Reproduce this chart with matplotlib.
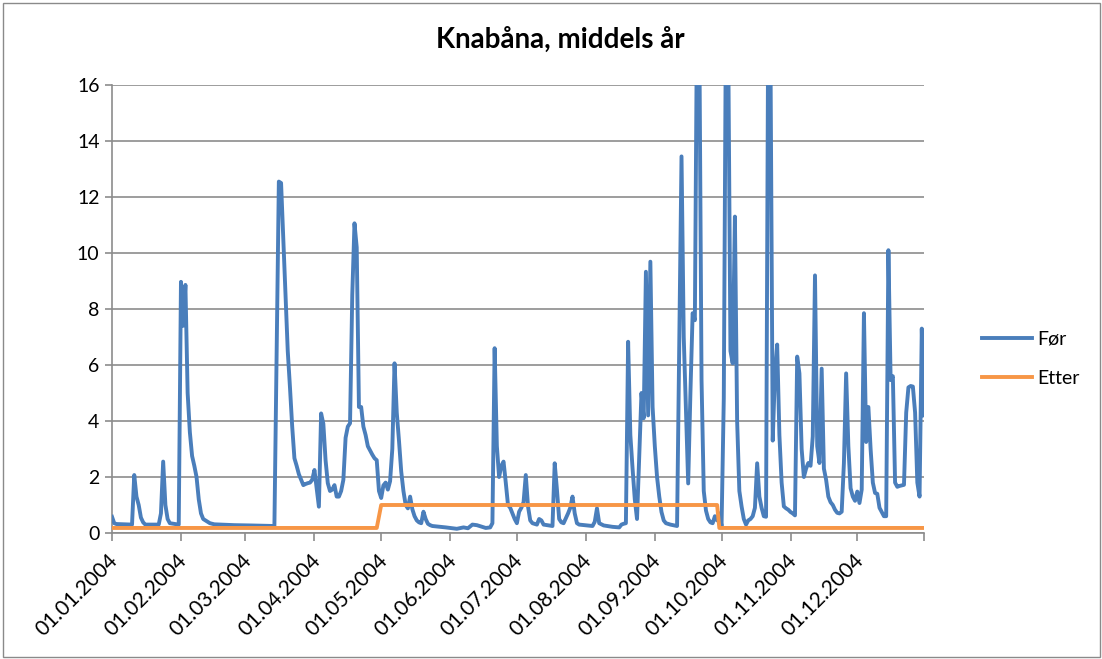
import numpy as np
import pandas as pd
import matplotlib
matplotlib.use("Agg")
import matplotlib.pyplot as plt
import matplotlib.transforms as mtransforms
from matplotlib.patches import Rectangle

# ---------------- data ----------------
title = "Knabåna, middels år"
series_names = ["Før", "Etter"]
year_start = "2004-01-01"
year_end = "2004-12-31"

# "Før": day-of-year offsets (0 = 01.01.2004) and values
for_day = [0, 1, 2, 9, 10, 11, 12, 13, 14, 15, 21, 22, 23, 24, 25, 26, 30, 31, 32, 33,
           34, 35, 36, 37, 38, 39, 40, 41, 42, 44, 46, 55, 62, 73, 75, 76, 77, 78, 79, 80,
           81, 82, 83, 84, 85, 86, 87, 88, 89, 90, 91, 92, 93, 94, 95, 96, 97, 98, 99, 100,
           101, 102, 103, 104, 105, 106, 107, 108, 109, 110, 111, 112, 113, 114, 115, 116, 117, 118, 119, 120,
           121, 122, 123, 124, 125, 126, 127, 128, 129, 130, 131, 132, 133, 134, 135, 136, 137, 138, 139, 140,
           141, 142, 143, 144, 150, 155, 158, 160, 162, 164, 168, 170, 171, 172, 173, 174, 175, 176, 177, 178,
           179, 180, 181, 182, 183, 184, 185, 186, 187, 188, 189, 191, 192, 193, 194, 198, 199, 200, 201, 202,
           203, 205, 206, 207, 208, 209, 210, 216, 217, 218, 219, 221, 225, 228, 229, 230, 231, 232, 233, 234,
           235, 236, 237, 238, 239, 240, 241, 242, 243, 244, 245, 246, 247, 248, 249, 251, 254, 256, 257, 259,
           260, 261, 262, 263, 264, 265, 266, 267, 268, 269, 270, 271, 272, 273, 274, 275, 276, 277, 278, 279,
           280, 281, 282, 283, 284, 285, 286, 287, 288, 289, 290, 291, 292, 293, 294, 295, 296, 297, 298, 299,
           300, 301, 302, 303, 304, 305, 306, 307, 308, 309, 310, 311, 312, 313, 314, 315, 316, 317, 318, 319,
           320, 321, 322, 323, 324, 325, 326, 327, 328, 329, 330, 331, 332, 333, 334, 335, 336, 337, 338, 339,
           340, 341, 342, 343, 344, 345, 346, 347, 348, 349, 350, 351, 352, 353, 354, 355, 356, 357, 358, 359,
           360, 361, 362, 363, 364, 365]
for_value = [0.58, 0.35, 0.32, 0.3, 2.07, 1.3, 1.0, 0.55, 0.38, 0.3, 0.3, 0.7, 2.55, 1.0, 0.5, 0.35, 0.3, 8.97, 7.4, 8.86,
             5.0, 3.6, 2.75, 2.4, 2.0, 1.2, 0.7, 0.5, 0.45, 0.35, 0.31, 0.28, 0.27, 0.25, 12.55, 12.5, 10.5, 8.5, 6.5, 5.2,
             3.8, 2.67, 2.4, 2.1, 1.9, 1.71, 1.75, 1.78, 1.8, 1.9, 2.25, 1.6, 0.94, 4.27, 3.9, 2.6, 1.78, 1.5, 1.55, 1.71,
             1.3, 1.3, 1.5, 1.9, 3.4, 3.8, 3.92, 8.5, 11.06, 10.2, 4.5, 4.5, 3.8, 3.5, 3.1, 2.95, 2.8, 2.67, 2.6, 1.5,
             1.25, 1.7, 1.8, 1.55, 1.85, 3.0, 6.06, 4.3, 3.3, 2.2, 1.5, 1.0, 0.88, 1.3, 0.85, 0.6, 0.45, 0.38, 0.35, 0.76,
             0.5, 0.33, 0.28, 0.25, 0.2, 0.15, 0.2, 0.17, 0.3, 0.28, 0.18, 0.2, 0.35, 6.6, 3.1, 2.0, 2.4, 2.55, 1.8, 1.0,
             0.9, 0.7, 0.5, 0.35, 0.76, 0.9, 1.1, 2.07, 0.95, 0.45, 0.35, 0.3, 0.5, 0.45, 0.3, 0.25, 2.49, 1.55, 0.5, 0.38,
             0.35, 0.7, 0.9, 1.3, 0.7, 0.35, 0.3, 0.25, 0.4, 0.88, 0.35, 0.27, 0.22, 0.2, 0.3, 0.33, 0.35, 6.83, 3.5, 2.3,
             1.2, 0.5, 2.8, 5.0, 4.1, 9.33, 4.2, 9.69, 4.5, 3.1, 2.0, 1.3, 0.75, 0.45, 0.35, 0.3, 0.25, 13.45, 7.0, 1.77,
             5.0, 7.85, 7.6, 19.0, 18.0, 5.46, 1.5, 0.8, 0.5, 0.38, 0.35, 0.6, 0.45, 0.7, 0.25, 4.8, 19.0, 17.5, 6.5, 6.06,
             11.3, 4.0, 1.5, 0.95, 0.5, 0.3, 0.45, 0.5, 0.6, 0.9, 2.49, 1.3, 0.9, 0.6, 0.58, 19.0, 17.0, 3.3, 5.7, 6.73,
             3.5, 1.8, 0.95, 0.88, 0.83, 0.75, 0.7, 0.63, 6.3, 5.7, 3.0, 2.0, 2.3, 2.5, 2.4, 3.45, 9.2, 3.1, 2.5, 5.87,
             2.3, 1.9, 1.3, 1.1, 1.0, 0.83, 0.72, 0.7, 0.76, 2.5, 5.7, 3.1, 1.6, 1.3, 1.15, 1.48, 1.07, 1.55, 7.85, 3.25,
             4.5, 3.0, 1.8, 1.43, 1.4, 0.9, 0.75, 0.6, 0.6, 10.1, 5.46, 5.6, 1.8, 1.65, 1.68, 1.7, 1.72, 4.3, 5.2, 5.25,
             5.23, 4.3, 1.8, 1.3, 7.3, 4.2]

# "Etter": breakpoints (day-of-year offsets) and values
etter_day = [0, 119, 121, 272, 273, 365]
etter_value = [0.18, 0.18, 1.0, 1.0, 0.18, 0.18]

y_ticks = [0, 2, 4, 6, 8, 10, 12, 14, 16]
month_starts = ["2004-01-01", "2004-02-01", "2004-03-01", "2004-04-01", "2004-05-01", "2004-06-01",
                "2004-07-01", "2004-08-01", "2004-09-01", "2004-10-01", "2004-11-01", "2004-12-01"]

# ---------------- figure ----------------
FONT = "Lato"
W, H = 1102, 659
fig = plt.figure(figsize=(W / 100, H / 100), dpi=100)
fig.patch.set_facecolor("white")

# outer chart border
fig.patches.append(Rectangle((2.5 / W, 2.5 / H), (W - 5) / W, (H - 5) / H,
                             transform=fig.transFigure, fill=False,
                             edgecolor="#8a8a8a", linewidth=1.0))

left, right, top, bottom = 112, 924, 85, 533
ax = fig.add_axes([left / W, 1 - bottom / H, (right - left) / W, (bottom - top) / H])

start = pd.Timestamp(year_start)
for_dates = start + pd.to_timedelta(for_day, unit="D")
etter_dates = start + pd.to_timedelta(etter_day, unit="D")

blue = "#4a7ebb"
orange = "#f79646"
ax.plot(for_dates, for_value, color=blue, linewidth=2.8, solid_joinstyle="round",
        label=series_names[0], zorder=3)
ax.plot(etter_dates, etter_value, color=orange, linewidth=2.8, solid_joinstyle="round",
        label=series_names[1], zorder=4)

ax.set_xlim(pd.Timestamp(year_start), pd.Timestamp(year_end))
ax.set_ylim(0, 16)

grid_c = "#8c8c8c"
ax.set_yticks(y_ticks)
ax.yaxis.grid(True, color=grid_c, linewidth=1.2)
ax.set_axisbelow(True)
for s in ["top", "right"]:
    ax.spines[s].set_visible(False)
for s in ["left", "bottom"]:
    ax.spines[s].set_color(grid_c)
    ax.spines[s].set_linewidth(1.2)

tick_dates = [pd.Timestamp(d) for d in month_starts] + [pd.Timestamp(year_end)]
ax.set_xticks(tick_dates)
ax.set_xticklabels([d.strftime("%d.%m.%Y") for d in tick_dates[:-1]] + [""])
ax.tick_params(axis="x", direction="out", length=6, width=1.2, color=grid_c, pad=7)
ax.tick_params(axis="y", direction="out", length=5, width=1.2, color=grid_c, pad=4)
offset = mtransforms.ScaledTranslation(0.03, -0.06, fig.dpi_scale_trans)
for lab in ax.get_xticklabels():
    lab.set_rotation(45)
    lab.set_ha("right")
    lab.set_va("center")
    lab.set_rotation_mode("anchor")
    lab.set_fontfamily(FONT)
    lab.set_fontsize(15)
    lab.set_transform(lab.get_transform() + offset)
for lab in ax.get_yticklabels():
    lab.set_fontfamily(FONT)
    lab.set_fontsize(14)

fig.text(560 / W, 1 - 40 / H, title, ha="center", va="center",
         fontfamily=FONT, fontweight="bold", fontsize=20)

leg = fig.legend(loc="center left", bbox_to_anchor=(982 / W, 1 - 358.5 / H),
                 frameon=False, borderpad=0, borderaxespad=0,
                 handlelength=2.55, handletextpad=0.3, labelspacing=1.15,
                 prop={"family": FONT, "size": 14})

fig.savefig("out.png", dpi=100, facecolor="white")
